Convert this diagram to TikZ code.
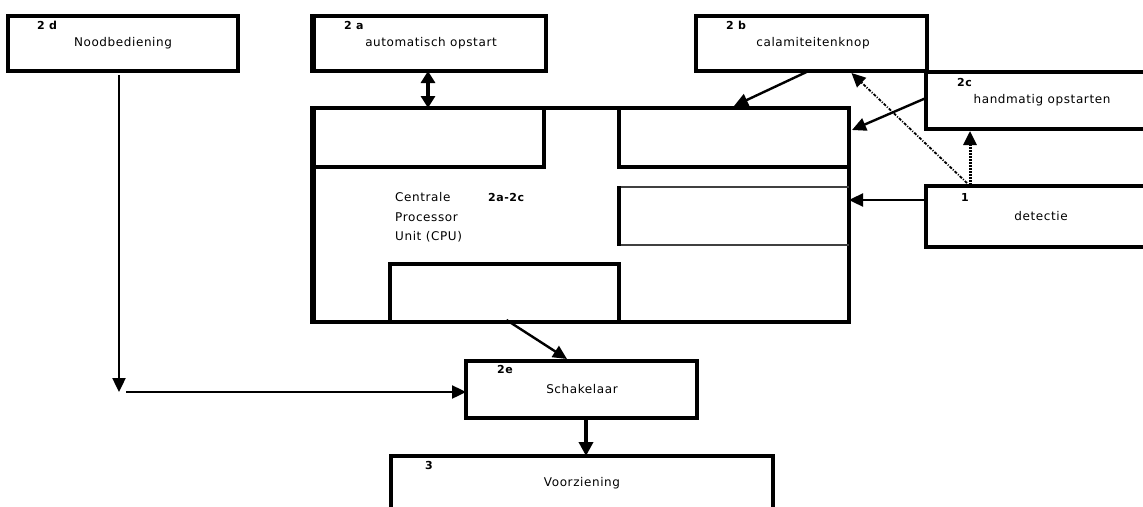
\documentclass[tikz,border=0pt]{standalone}
\usepackage{fontspec}
\setmainfont{DejaVu Sans}[LetterSpace=5]
\usetikzlibrary{arrows.meta,calc}
\tikzset{
  box/.style={draw, line width=4pt, anchor=north west, inner sep=0pt, outer sep=0pt},
  lbl/.style={anchor=west, inner sep=0pt, font=\fontsize{11}{13}\selectfont\bfseries},
  txt/.style={inner sep=0pt, font=\fontsize{12}{14}\selectfont},
  arr/.style={line width=2.4pt, -{Triangle[length=14pt,width=13pt]}},
  arrthick/.style={line width=3.4pt, -{Triangle[length=14pt,width=14pt]}},
  dblarr/.style={line width=3.6pt, {Triangle[length=12pt,width=14pt]}-{Triangle[length=12pt,width=14pt]}},
  dotarr/.style={line width=3pt, dash pattern=on 1.8pt off 1.2pt, -{Triangle[length=14pt,width=13pt]}},
  dashdotarr/.style={line width=1.8pt, dash pattern=on 3pt off 1.5pt on 1pt off 1.5pt, -{Triangle[length=14pt,width=13pt]}},
  inner/.style={line width=3.6pt}
}
\begin{document}
\begin{tikzpicture}[x=1pt,y=-1pt]
\useasboundingbox (0,0) rectangle (1143,506);
\clip (0,0) rectangle (1143,506);

% boxes
\node[box, minimum width=230pt, minimum height=55pt] (n2d) at (8,16) {};
\node[box, minimum width=233pt, minimum height=55pt] (n2a) at (313,16) {};
\node[box, minimum width=231pt, minimum height=55pt] (n2b) at (696,16) {};
\node[box, minimum width=240pt, minimum height=57pt] (n2c) at (926,72) {};
\node[box, minimum width=240pt, minimum height=61pt] (n1) at (926,186) {};
\node[box, minimum width=536pt, minimum height=214pt] (cpu) at (313,108) {};
\node[box, minimum width=231pt, minimum height=57pt] (n2e) at (466,361) {};
\node[box, minimum width=382pt, minimum height=70pt] (n3) at (391,456) {};

% thicker left edges
\draw[line width=6pt] (313,14) -- (313,73);
\draw[line width=6pt] (313,106) -- (313,324);

% inner parts of the CPU
\draw[inner] (cpu.north west) |- (544,167) -- (544,108);
\draw[inner] (619,108) |- (849,167);
\draw[line width=1.5pt, black!75] (849,187) -| (619,245) -- (849,245);
\draw[inner] (619,186) -- (619,246);
\draw[inner] (390,322) |- (619,264) -- (619,322);

% labels
\node[lbl] at (37,25) {2 d};
\node[txt] at (123,43) {Noodbediening};
\node[lbl] at (344,25) {2 a};
\node[txt] at (431,43) {automatisch opstart};
\node[lbl] at (726,25) {2 b};
\node[txt] at (813,43) {calamiteitenknop};
\node[lbl] at (957,82) {2c};
\node[txt] at (1042,100) {handmatig opstarten};
\node[lbl] at (961,197) {1};
\node[txt] at (1041,216) {detectie};
\node[txt, anchor=west] at (395,197) {Centrale};
\node[txt, anchor=west] at (395,217) {Processor};
\node[txt, anchor=west] at (395,237) {Unit (CPU)};
\node[lbl] at (488,197) {2a-2c};
\node[lbl] at (497,369) {2e};
\node[txt] at (582,389) {Schakelaar};
\node[lbl] at (425,465) {3};
\node[txt] at (582,483) {Voorziening};

% connectors
\coordinate (c1) at (119,392);
\draw[arr] ([yshift=-4pt]c1 |- n2d.south) -- (c1);
\draw[arr] ([xshift=7pt]c1) -- (c1 -| n2e.west);

\coordinate (ax) at (428,0);
\draw[dblarr] (ax |- n2a.south) -- (ax |- cpu.north);

\draw[arr] ([xshift=-5pt,yshift=-1pt]n2b.south) -- ([xshift=153pt,yshift=2pt]cpu.north);
\draw[arr] ([yshift=2.5pt]n2c.west) -- ([xshift=3pt,yshift=-22pt]cpu.north east);
\draw[arr] ([yshift=16.5pt]n1.west) coordinate (d1) -- (d1 -| cpu.east);

\coordinate (dx) at (970,0);
\draw[dotarr] ([yshift=1pt]dx |- n1.north) -- ([yshift=-2pt]dx |- n2c.south);
\coordinate (ex) at (967,0);
\draw[dashdotarr] ([yshift=3pt]ex |- n1.north) -- ([xshift=40pt,yshift=-2pt]n2b.south);

\draw[arr] ([xshift=-74.5pt,yshift=2pt]cpu.south) -- ([xshift=-14.5pt,yshift=2pt]n2e.north);
\coordinate (vx) at (586,0);
\draw[arrthick] (vx |- n2e.south) -- (vx |- n3.north);
\end{tikzpicture}
\end{document}
